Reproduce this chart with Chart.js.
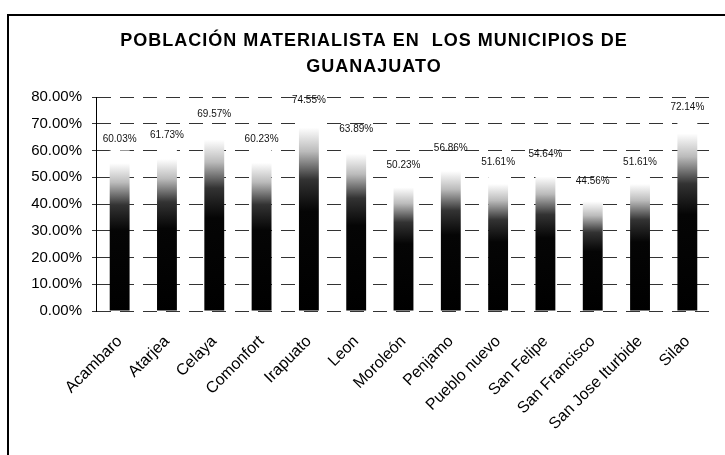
<!DOCTYPE html>
<html>
<head>
<meta charset="utf-8">
<script src="https://cdn.jsdelivr.net/npm/chart.js@4"></script>
<style>
  html, body { margin: 0; padding: 0; background: #fff; }
  #wrap { width: 725px; height: 455px; }
</style>
</head>
<body>
<div id="wrap"><canvas id="myChart" width="725" height="455"></canvas></div>
<script>
const municipios = ['Acambaro', 'Atarjea', 'Celaya', 'Comonfort', 'Irapuato', 'Leon', 'Moroleón',
    'Penjamo', 'Pueblo nuevo', 'San Felipe', 'San Francisco', 'San Jose Iturbide', 'Silao']
const porcentajes = [60.03, 61.73, 69.57, 60.23, 74.55, 63.89, 50.23, 56.86, 51.61, 54.64, 44.56, 51.61, 72.14]
const yTicks = [0, 10, 20, 30, 40, 50, 60, 70, 80]
const titulo = ['POBLACIÓN MATERIALISTA EN  LOS MUNICIPIOS DE', 'GUANAJUATO']

const FONT = '"Liberation Sans", Arial, sans-serif'

// bars fade from black at the base to white at the top (like the scanned fill)
function barFill(context) {
    const chart = context.chart
    if (!chart.chartArea || !chart.scales.y) return '#000'
    const y = chart.scales.y
    const base = y.getPixelForValue(0)
    const top = y.getPixelForValue(context.raw)
    const g = chart.ctx.createLinearGradient(0, base, 0, top)
    g.addColorStop(0, '#000')
    g.addColorStop(0.5, '#050505')
    g.addColorStop(0.66, '#333')
    g.addColorStop(0.8, '#bbb')
    g.addColorStop(0.92, '#fff')
    g.addColorStop(1, '#fff')
    return g
}

const frame = {
    id: 'frame',
    beforeDraw(chart) {
        const ctx = chart.ctx
        ctx.save()
        ctx.strokeStyle = '#000'
        ctx.lineWidth = 2
        ctx.beginPath()
        ctx.moveTo(8, 455)
        ctx.lineTo(8, 15)
        ctx.lineTo(725, 15)
        ctx.stroke()
        // title, slightly spaced out like the original
        ctx.fillStyle = '#000'
        ctx.font = 'bold 18px ' + FONT
        ctx.textAlign = 'center'
        ctx.textBaseline = 'middle'
        ctx.letterSpacing = '1px'
        ctx.fillText(titulo[0], 374, 41)
        ctx.fillText(titulo[1], 374, 67)
        ctx.restore()
    }
}

const valueLabels = {
    id: 'valueLabels',
    afterDatasetsDraw(chart) {
        const ctx = chart.ctx
        const meta = chart.getDatasetMeta(0)
        ctx.save()
        ctx.font = '10px ' + FONT
        ctx.fillStyle = '#111'
        ctx.textAlign = 'center'
        ctx.textBaseline = 'bottom'
        meta.data.forEach((bar, i) => {
            ctx.fillText(porcentajes[i].toFixed(2) + '%', bar.x, bar.y - 6)
        })
        ctx.restore()
    }
}

const ctx = document.getElementById('myChart').getContext('2d')
const myChart = new Chart(ctx, {
    type: 'bar',
    data: {
        labels: municipios,
        datasets: [{
            data: porcentajes,
            backgroundColor: barFill,
            borderWidth: 0,
            barPercentage: 0.42,
            categoryPercentage: 1
        }]
    },
    options: {
        responsive: false,
        animation: false,
        layout: { padding: { left: 0, right: 14, top: 97, bottom: 0 } },
        plugins: {
            legend: { display: false },
            tooltip: { enabled: false },
            title: { display: false }
        },
        scales: {
            x: {
                grid: { display: false },
                border: { display: false },
                ticks: {
                    color: '#000',
                    font: { family: FONT, size: 16 },
                    minRotation: 45,
                    maxRotation: 45,
                    autoSkip: false,
                    padding: 13
                },
                afterFit(scale) { scale.height = 144 }
            },
            y: {
                min: 0,
                max: 80,
                afterBuildTicks(scale) { scale.ticks = yTicks.map(v => ({ value: v })) },
                grid: { color: '#333', lineWidth: 1, tickLength: 4 },
                border: { display: true, color: '#000', width: 1, dash: [14, 9] },
                ticks: {
                    color: '#000',
                    padding: 10,
                    font: { family: FONT, size: 15 },
                    callback: v => v.toFixed(2) + '%'
                },
                afterFit(scale) { scale.width = 96 }
            }
        }
    },
    plugins: [frame, valueLabels]
})
</script>
</body>
</html>
